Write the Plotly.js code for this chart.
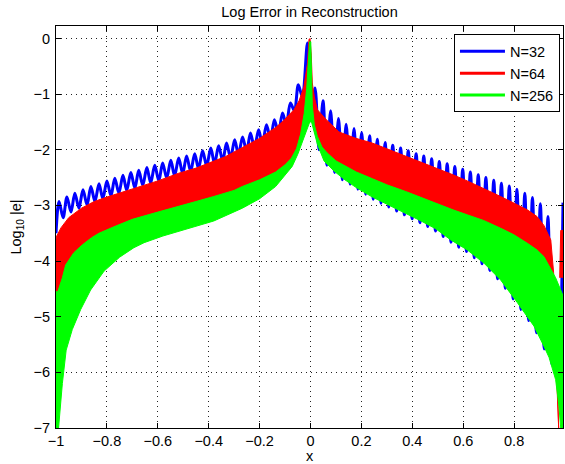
<!DOCTYPE html>
<html>
<head>
<meta charset="utf-8">
<script src="https://cdn.plot.ly/plotly-3.0.1.min.js"></script>
<style>html,body{margin:0;padding:0;background:#fff;}#chart{width:565px;height:464px;}</style>
</head>
<body>
<div id="chart"></div>
<script>
// ---- data ----
const seriesNames = ["N=32", "N=64", "N=256"];
const xTicks = [-1, -0.8, -0.6, -0.4, -0.2, 0, 0.2, 0.4, 0.6, 0.8];
const yTicks = [0, -1, -2, -3, -4, -5, -6, -7];

// N=32 : oscillating error curve (peaks and troughs)
const blueX = [-1.000,-0.988,-0.972,-0.957,-0.941,-0.926,-0.910,-0.894,-0.878,-0.863,-0.847,-0.831,-0.816,-0.800,-0.784,-0.769,-0.753,-0.737,-0.722,-0.706,-0.690,-0.675,-0.659,-0.643,-0.628,-0.612,-0.596,-0.581,-0.565,-0.549,-0.534,-0.518,-0.502,-0.487,-0.471,-0.455,-0.440,-0.424,-0.408,-0.392,-0.377,-0.361,-0.345,-0.330,-0.314,-0.298,-0.283,-0.267,-0.251,-0.236,-0.220,-0.204,-0.189,-0.173,-0.157,-0.142,-0.126,-0.110,-0.095,-0.079,-0.063,-0.048,-0.032,-0.012,0.004,0.018,0.0335,0.049,0.064,0.079,0.0945,0.110,0.125,0.140,0.1555,0.171,0.186,0.201,0.2165,0.232,0.247,0.262,0.2775,0.293,0.308,0.323,0.3385,0.354,0.369,0.384,0.3995,0.415,0.430,0.445,0.4605,0.476,0.491,0.506,0.5215,0.537,0.552,0.567,0.5825,0.598,0.613,0.628,0.6435,0.659,0.674,0.689,0.7045,0.720,0.735,0.750,0.7655,0.781,0.796,0.811,0.8265,0.842,0.857,0.872,0.8875,0.903,0.918,0.933,0.948,0.962,0.977,0.992];
const blueY = [-3.50,-2.93,-3.22,-2.85,-3.12,-2.78,-3.05,-2.72,-2.99,-2.66,-2.93,-2.61,-2.88,-2.56,-2.83,-2.51,-2.78,-2.46,-2.73,-2.41,-2.69,-2.37,-2.64,-2.32,-2.60,-2.28,-2.56,-2.24,-2.51,-2.19,-2.47,-2.15,-2.43,-2.11,-2.39,-2.07,-2.34,-2.02,-2.29,-1.97,-2.25,-1.93,-2.20,-1.88,-2.15,-1.82,-2.09,-1.77,-2.03,-1.70,-1.97,-1.64,-1.90,-1.55,-1.81,-1.46,-1.70,-1.34,-1.55,-1.16,-1.30,-0.83,-1.05,-0.08,-1.40,-0.89,-2.00,-1.12,-2.28,-1.30,-2.41,-1.44,-2.54,-1.54,-2.62,-1.62,-2.71,-1.69,-2.80,-1.75,-2.89,-1.81,-2.96,-1.87,-3.03,-1.92,-3.10,-1.97,-3.17,-2.02,-3.24,-2.07,-3.31,-2.11,-3.38,-2.16,-3.46,-2.21,-3.56,-2.25,-3.66,-2.30,-3.75,-2.35,-3.83,-2.40,-3.94,-2.45,-4.05,-2.50,-4.17,-2.55,-4.32,-2.60,-4.49,-2.65,-4.68,-2.71,-4.87,-2.78,-5.07,-2.86,-5.29,-2.97,-5.58,-3.20,-5.85,-4.40,-6.30,-2.95];

// N=64 : band of dense oscillation (upper and lower envelope)
const redTopX = [-1.0,-0.997,-0.98,-0.95,-0.90,-0.85,-0.80,-0.75,-0.70,-0.60,-0.517,-0.45,-0.40,-0.333,-0.268,-0.202,-0.137,-0.104,-0.084,-0.065,-0.045,-0.026,-0.012,-0.006,-0.002,0.003,0.007,0.015,0.027,0.06,0.112,0.175,0.243,0.31,0.374,0.44,0.505,0.56,0.616,0.68,0.747,0.80,0.852,0.89,0.917,0.944,0.955,0.965,0.972,0.975];
const redTopY = [-3.60,-3.55,-3.40,-3.22,-3.05,-2.93,-2.85,-2.78,-2.71,-2.56,-2.42,-2.33,-2.24,-2.12,-1.96,-1.80,-1.60,-1.47,-1.37,-1.28,-1.12,-0.87,-0.45,-0.02,0.00,-0.30,-0.80,-1.05,-1.28,-1.45,-1.68,-1.79,-1.88,-2.00,-2.12,-2.23,-2.35,-2.45,-2.56,-2.69,-2.84,-2.96,-3.08,-3.20,-3.36,-3.62,-4.20,-5.30,-6.60,-7.00];
const redBotX = [0.975,0.968,0.95,0.94,0.89,0.80,0.70,0.60,0.50,0.40,0.30,0.20,0.10,0.045,0.015,0.005,0.0,-0.006,-0.015,-0.039,-0.075,-0.137,-0.20,-0.30,-0.40,-0.517,-0.60,-0.70,-0.80,-0.897,-0.962,-0.975,-0.993,-1.0];
const redBotY = [-7.0,-6.2,-4.5,-4.3,-3.95,-3.7,-3.45,-3.3,-3.15,-2.95,-2.8,-2.6,-2.35,-2.05,-1.65,-1.2,-0.5,-0.5,-1.1,-1.85,-2.25,-2.55,-2.7,-2.88,-3.02,-3.17,-3.27,-3.40,-3.6,-3.85,-4.22,-4.45,-4.6,-4.6];
const redEndX = [0.979,0.983,0.992,0.992];
const redEndY = [-4.3,-3.45,-3.45,-4.3];

// N=256 : band of dense oscillation (upper and lower envelope)
const greenTopX = [-1.0,-0.993,-0.975,-0.962,-0.93,-0.897,-0.86,-0.831,-0.765,-0.70,-0.60,-0.517,-0.45,-0.38,-0.30,-0.268,-0.20,-0.137,-0.10,-0.075,-0.055,-0.039,-0.025,-0.015,-0.008,-0.004,0.001,0.004,0.007,0.015,0.027,0.045,0.066,0.10,0.132,0.18,0.243,0.30,0.374,0.44,0.505,0.56,0.616,0.68,0.747,0.80,0.852,0.89,0.917,0.94,0.963,0.992];
const greenTopY = [-4.55,-4.55,-4.30,-4.07,-3.85,-3.71,-3.58,-3.50,-3.37,-3.25,-3.12,-3.02,-2.93,-2.84,-2.73,-2.66,-2.54,-2.40,-2.27,-2.15,-1.98,-1.72,-1.35,-0.90,-0.40,-0.06,-0.06,-0.50,-1.20,-1.55,-1.76,-1.95,-2.06,-2.20,-2.28,-2.40,-2.52,-2.63,-2.75,-2.87,-2.99,-3.08,-3.17,-3.27,-3.41,-3.53,-3.68,-3.80,-3.92,-4.10,-4.30,-4.62];
const greenBotX = [0.992,0.983,0.976,0.963,0.937,0.917,0.878,0.813,0.747,0.682,0.616,0.551,0.492,0.43,0.374,0.30,0.243,0.18,0.132,0.092,0.053,0.027,0.015,0.004,-0.003,-0.015,-0.032,-0.05,-0.072,-0.104,-0.137,-0.20,-0.268,-0.38,-0.48,-0.58,-0.654,-0.694,-0.75,-0.811,-0.864,-0.903,-0.936,-0.96,-0.975,-0.99,-1.0];
const greenBotY = [-7.0,-7.0,-6.61,-6.13,-5.73,-5.53,-5.17,-4.75,-4.34,-4.04,-3.80,-3.62,-3.42,-3.27,-3.14,-2.98,-2.85,-2.68,-2.53,-2.38,-2.20,-1.90,-1.70,-1.50,-1.50,-1.65,-1.85,-2.08,-2.30,-2.48,-2.66,-2.88,-3.05,-3.28,-3.42,-3.55,-3.67,-3.76,-3.93,-4.18,-4.52,-4.87,-5.23,-5.60,-6.20,-7.0,-7.0];

const colors = ["#0000ff", "#ff0000", "#00ff00"];

// ---- traces ----
const traces = [
  {x: blueX, y: blueY, mode: "lines", line: {color: colors[0], width: 3, simplify: false, shape: "spline", smoothing: 0.9}, showlegend: false, hoverinfo: "skip"},
  {x: redTopX.concat(redBotX), y: redTopY.concat(redBotY), mode: "lines", fill: "toself", fillcolor: colors[1], line: {color: colors[1], width: 1}, showlegend: false, hoverinfo: "skip"},
  {x: redEndX, y: redEndY, mode: "lines", fill: "toself", fillcolor: colors[1], line: {color: colors[1], width: 1}, showlegend: false, hoverinfo: "skip"},
  {x: greenTopX.concat(greenBotX), y: greenTopY.concat(greenBotY), mode: "lines", fill: "toself", fillcolor: colors[2], line: {color: colors[2], width: 1}, showlegend: false, hoverinfo: "skip"}
];
seriesNames.forEach(function (nm, i) {
  traces.push({x: [null], y: [null], mode: "lines", name: nm, line: {color: colors[i], width: 3}, showlegend: true});
});

const fontFam = "Liberation Sans, Arial, Helvetica, sans-serif";
const axisCommon = {
  showline: true, linecolor: "#000", linewidth: 1, mirror: "ticks",
  ticks: "inside", ticklen: 5, tickcolor: "#000", tickwidth: 1,
  showgrid: true, gridcolor: "#222", gridwidth: 1, griddash: "1px,4px",
  zeroline: false, automargin: false,
  tickfont: {family: fontFam, size: 14.5, color: "#000"}
};

const layout = {
  width: 565, height: 464,
  margin: {l: 56, r: 2, t: 26, b: 36, pad: 0},
  paper_bgcolor: "#fff", plot_bgcolor: "#fff",
  font: {family: fontFam, size: 14.5, color: "#000"},
  title: {text: "Log Error in Reconstruction", font: {family: fontFam, size: 14.5, color: "#000"},
          x: 0.5, xref: "paper", xanchor: "center", y: 1 - 12 / 464, yref: "container", yanchor: "middle"},
  xaxis: Object.assign({}, axisCommon, {
    range: [-1, 0.992], tickvals: xTicks,
    title: {text: "x", font: {family: fontFam, size: 14.5, color: "#000"}, standoff: 3}
  }),
  yaxis: Object.assign({}, axisCommon, {
    range: [-7, 0.224], tickvals: yTicks, ticklabelstandoff: 2,
    title: {text: "Log<sub>10</sub> |e|", font: {family: fontFam, size: 14.5, color: "#000"}, standoff: 8}
  }),
  legend: {x: 0.994, xanchor: "right", y: 0.979, yanchor: "top", bgcolor: "#fff",
           bordercolor: "#000", borderwidth: 1, font: {family: fontFam, size: 14.5, color: "#000"},
           tracegroupgap: 0, itemwidth: 45}
};

Plotly.newPlot("chart", traces, layout, {displayModeBar: false, staticPlot: true});
</script>
</body>
</html>
